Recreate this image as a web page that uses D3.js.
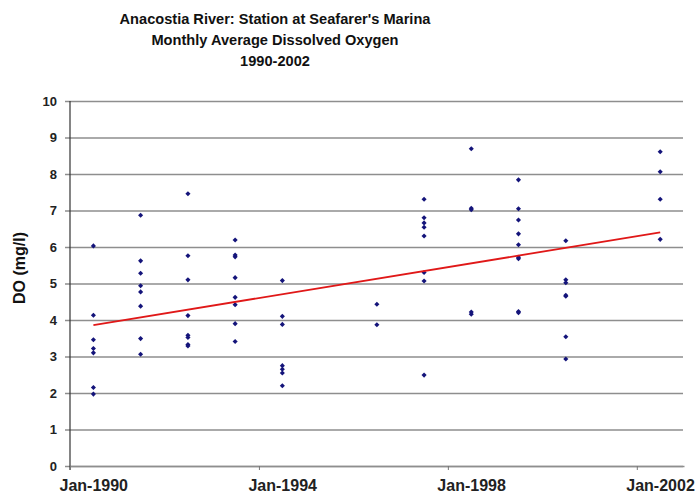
<!DOCTYPE html>
<html>
<head>
<meta charset="utf-8">
<script src="https://cdn.jsdelivr.net/npm/d3@7"></script>
<style>
  html, body { margin: 0; padding: 0; background: #fff; }
  svg { display: block; font-family: "Liberation Sans", Arial, sans-serif; }
</style>
</head>
<body>
<svg id="chart" width="699" height="496"></svg>
<script>
// ---- data ----
const titleLines = ["Anacostia River: Station at Seafarer's Marina", "Monthly Average Dissolved Oxygen", "1990-2002"];
const yLabel = "DO (mg/l)";
const years = [1990, 1991, 1992, 1993, 1994, 1996, 1997, 1998, 1999, 2000, 2002];
const doByYear = [
  [6.03, 4.13, 3.46, 3.22, 3.10, 2.15, 1.97],
  [6.87, 5.62, 5.28, 4.94, 4.77, 4.38, 3.49, 3.06],
  [7.46, 5.76, 5.10, 4.12, 3.58, 3.52, 3.33, 3.29],
  [6.19, 5.78, 5.73, 5.16, 4.62, 4.42, 3.90, 3.41],
  [5.08, 4.10, 3.88, 2.75, 2.65, 2.55, 2.20],
  [4.43, 3.87],
  [7.31, 6.80, 6.66, 6.54, 6.30, 5.30, 5.07, 2.49],
  [8.69, 7.06, 7.02, 4.22, 4.16],
  [7.84, 7.05, 6.74, 6.36, 6.06, 5.72, 5.68, 4.23, 4.20],
  [6.17, 5.10, 5.02, 4.68, 4.65, 3.54, 2.93],
  [8.61, 8.06, 7.31, 6.21]
];
const trendYears = [1990, 2002];
const trendValues = [3.86, 6.40];
const xTickYears = [1990, 1994, 1998, 2002];
const yTicks = [0, 1, 2, 3, 4, 5, 6, 7, 8, 9, 10];

(function () {
// ---- layout ----
const svg = d3.select("#chart");
const pLeft = 70, pRight = 684, pTop = 101, pBottom = 466;
const midYear = v => new Date(v, 6, 1);

const x = d3.scaleTime().domain([new Date(1990, 0, 1), new Date(2003, 0, 1)]).range([pLeft, pRight]);
const y = d3.scaleLinear().domain([0, 10]).range([pBottom, pTop]);

// title
svg.append("g").selectAll("text").data(titleLines).join("text")
  .attr("x", 275).attr("y", (d, i) => 24 + i * 21)
  .attr("text-anchor", "middle")
  .attr("font-size", 14.6).attr("font-weight", "bold").attr("fill", "#111")
  .text(d => d);

// gridlines
const yAxis = d3.axisLeft(y).tickValues(yTicks).tickSize(-(pRight - pLeft)).tickSizeOuter(0).tickPadding(13);
const gy = svg.append("g").attr("transform", `translate(${pLeft},0)`).call(yAxis);
gy.select(".domain").remove();
gy.selectAll(".tick line").attr("x1", -5).attr("x2", pRight - pLeft - 1)
  .attr("stroke", "#8e8e8e").attr("stroke-width", 1.6);
gy.selectAll(".tick text").attr("font-size", 13).attr("font-weight", "bold").attr("fill", "#222");

// y axis line
svg.append("line").attr("x1", pLeft).attr("x2", pLeft).attr("y1", pTop).attr("y2", pBottom + 4)
  .attr("stroke", "#333").attr("stroke-width", 1.2);

// x axis
const xAxis = d3.axisBottom(x).tickValues(xTickYears.map(v => new Date(v, 0, 1)))
  .tickFormat(d3.timeFormat("%b-%Y")).tickSize(4).tickSizeOuter(0);
const gx = svg.append("g").attr("transform", `translate(0,${pBottom})`).call(xAxis);
gx.select(".domain").attr("stroke", "#8e8e8e").attr("stroke-width", 1.6);
gx.selectAll(".tick line").attr("stroke", "#777");
gx.selectAll(".tick text").attr("font-size", 16).attr("font-weight", "bold").attr("fill", "#222")
  .attr("text-anchor", "start").attr("dx", -11).attr("y", 25).attr("dy", 0);

// y label
svg.append("text")
  .attr("transform", `translate(25,268) rotate(-90)`)
  .attr("text-anchor", "middle").attr("font-size", 16).attr("font-weight", "bold").attr("fill", "#111")
  .text(yLabel);

// points
const pts = [];
years.forEach((yr, i) => doByYear[i].forEach(v => pts.push({ yr, v })));
const sym = d3.symbol().type(d3.symbolSquare).size(13);
svg.append("g").selectAll("path").data(pts).join("path")
  .attr("d", sym)
  .attr("transform", d => `translate(${x(midYear(d.yr))},${y(d.v)}) rotate(45)`)
  .attr("fill", "#14147a");

// trend line
const line = d3.line().x((d, i) => x(midYear(trendYears[i]))).y(d => y(d));
svg.append("path").datum(trendValues).attr("d", line)
  .attr("fill", "none").attr("stroke", "#e01818").attr("stroke-width", 1.8);
})();
</script>
</body>
</html>
